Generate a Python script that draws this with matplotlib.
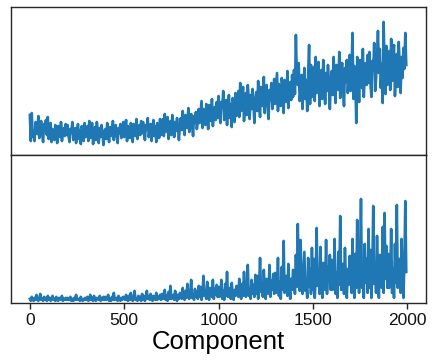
import numpy as np
import matplotlib
matplotlib.use('Agg')
import matplotlib.pyplot as plt

plt.rcParams['font.family'] = ['Liberation Sans', 'DejaVu Sans']

# sampled every 5 components
component = list(range(0, 2000, 5))

top = [
    40, 14, 42, 18, 23, 14, 33, 27, 21, 39, 17, 29, 34, 22, 13, 31, 25, 35, 20, 38,
    16, 24, 32, 13, 26, 21, 15, 30, 25, 12, 29, 22, 18, 33, 14, 23, 27, 19, 31, 20,
    30, 19, 13, 26, 23, 33, 15, 20, 27, 12, 22, 31, 16, 25, 11, 29, 24, 14, 32, 18,
    20, 29, 14, 34, 17, 26, 32, 11, 21, 28, 15, 33, 24, 12, 27, 18, 30, 22, 10, 23,
    26, 16, 32, 21, 13, 28, 24, 19, 34, 15, 25, 30, 20, 12, 27, 22, 31, 17, 23, 33,
    18, 26, 35, 14, 29, 23, 17, 32, 28, 13, 31, 24, 19, 36, 16, 25, 30, 20, 34, 22,
    33, 21, 15, 30, 26, 37, 18, 23, 31, 14, 25, 35, 19, 29, 13, 32, 27, 17, 36, 20,
    25, 36, 19, 41, 23, 32, 38, 16, 27, 34, 20, 40, 31, 18, 33, 24, 37, 28, 15, 29,
    37, 25, 44, 30, 20, 40, 34, 27, 47, 23, 36, 41, 29, 19, 39, 32, 43, 26, 33, 46,
    32, 43, 54, 27, 46, 38, 30, 51, 45, 26, 50, 40, 34, 56, 29, 42, 48, 35, 53, 37,
    59, 41, 32, 53, 48, 64, 35, 42, 55, 30, 46, 60, 37, 51, 28, 57, 50, 33, 62, 39,
    48, 64, 38, 72, 44, 58, 68, 34, 50, 62, 40, 70, 56, 36, 60, 46, 66, 52, 32, 54,
    63, 44, 74, 53, 38, 68, 59, 49, 78, 42, 61, 70, 51, 36, 65, 55, 72, 46, 57, 76,
    51, 66, 82, 44, 71, 60, 49, 77, 69, 42, 75, 62, 53, 84, 47, 64, 73, 55, 80, 58,
    85, 61, 120, 78, 70, 92, 54, 63, 80, 46, 68, 87, 56, 75, 44, 82, 110, 51, 90, 58,
    67, 88, 54, 98, 62, 80, 93, 49, 69, 85, 56, 95, 77, 51, 82, 64, 90, 72, 46, 75,
    84, 60, 98, 71, 52, 90, 79, 65, 103, 57, 81, 92, 68, 49, 87, 73, 95, 62, 76, 100,
    64, 84, 122, 56, 89, 75, 32, 98, 86, 53, 95, 78, 67, 106, 58, 81, 92, 70, 100, 72,
    103, 73, 58, 94, 85, 112, 64, 76, 97, 124, 82, 106, 67, 91, 52, 133, 88, 61, 109, 70,
    80, 104, 65, 116, 74, 95, 110, 59, 83, 101, 68, 113, 92, 62, 98, 77, 107, 86, 122, 90,
]

bottom = [
    3, 1, 5, 2, 1, 4, 2, 7, 2, 1, 3, 8, 2, 3, 1, 5, 2, 4, 1, 6,
    2, 4, 1, 3, 6, 2, 3, 1, 5, 2, 1, 4, 3, 2, 6, 1, 3, 2, 4, 2,
    4, 2, 2, 5, 1, 3, 1, 4, 2, 7, 2, 3, 3, 1, 5, 2, 1, 3, 2, 4,
    2, 5, 1, 3, 7, 2, 4, 1, 6, 2, 1, 4, 3, 2, 6, 1, 4, 2, 5, 2,
    5, 2, 3, 7, 1, 3, 1, 5, 2, 9, 2, 3, 4, 1, 6, 3, 1, 4, 2, 5,
    4, 2, 7, 2, 1, 6, 2, 9, 3, 1, 4, 11, 2, 3, 1, 6, 2, 5, 1, 8,
    2, 6, 1, 4, 11, 3, 5, 2, 8, 3, 1, 6, 4, 2, 9, 2, 5, 3, 7, 2,
    8, 3, 4, 12, 2, 6, 1, 10, 3, 16, 3, 5, 7, 2, 11, 4, 1, 7, 3, 9,
    8, 3, 14, 5, 2, 11, 4, 18, 6, 3, 9, 22, 4, 7, 2, 13, 5, 10, 3, 16,
    5, 15, 2, 9, 26, 6, 11, 3, 20, 7, 2, 14, 10, 5, 22, 3, 13, 7, 17, 5,
    15, 5, 8, 22, 3, 11, 2, 18, 6, 30, 5, 9, 14, 3, 19, 8, 2, 12, 6, 16,
    13, 5, 23, 8, 3, 18, 6, 30, 10, 5, 15, 37, 6, 11, 3, 22, 8, 17, 5, 27,
    8, 26, 3, 14, 44, 10, 19, 5, 32, 12, 3, 23, 17, 8, 37, 5, 21, 12, 28, 8,
    29, 9, 15, 44, 6, 20, 3, 35, 12, 61, 9, 17, 26, 6, 38, 15, 3, 23, 12, 32,
    26, 8, 47, 15, 78, 36, 11, 62, 18, 8, 29, 50, 11, 22, 4, 44, 15, 33, 8, 54,
    12, 43, 4, 24, 74, 16, 31, 8, 55, 20, 4, 39, 27, 12, 62, 8, 35, 20, 47, 12,
    42, 12, 21, 63, 8, 29, 4, 50, 17, 86, 12, 25, 38, 8, 54, 21, 4, 33, 17, 46,
    33, 9, 63, 19, 4, 48, 14, 82, 24, 9, 38, 103, 14, 29, 4, 58, 19, 43, 9, 73,
    14, 52, 4, 28, 96, 18, 37, 9, 66, 23, 4, 47, 33, 14, 75, 9, 89, 23, 56, 14,
    48, 14, 24, 73, 9, 33, 4, 58, 19, 97, 14, 29, 43, 9, 63, 24, 4, 38, 101, 30,
]

xticks = [0, 500, 1000, 1500, 2000]

fig = plt.figure(figsize=(4.33, 3.64), dpi=100)
ax1 = fig.add_axes([0.0254, 0.574, 0.9586, 0.407])
ax2 = fig.add_axes([0.0254, 0.168, 0.9586, 0.406], sharex=ax1)

ax1.plot(component, top, color='#1f77b4', lw=1.9)
ax2.plot(component, bottom, color='#1f77b4', lw=1.9)

for ax in (ax1, ax2):
    for s in ax.spines.values():
        s.set_color('#262626')
        s.set_linewidth(1.0)
    ax.tick_params(axis='y', left=False, labelleft=False)

ax1.set_ylim(0, 148)
ax2.set_ylim(-1, 147)
ax1.set_xlim(-100, 2100)
ax1.tick_params(axis='x', bottom=False, labelbottom=False)
ax2.set_xticks(xticks)
ax2.tick_params(axis='x', direction='out', length=4, width=1, colors='#262626',
                labelsize=12.5, labelcolor='#111111')
ax2.set_xlabel('Component', fontsize=18.5, labelpad=1)

fig.savefig('out.png', dpi=100)
